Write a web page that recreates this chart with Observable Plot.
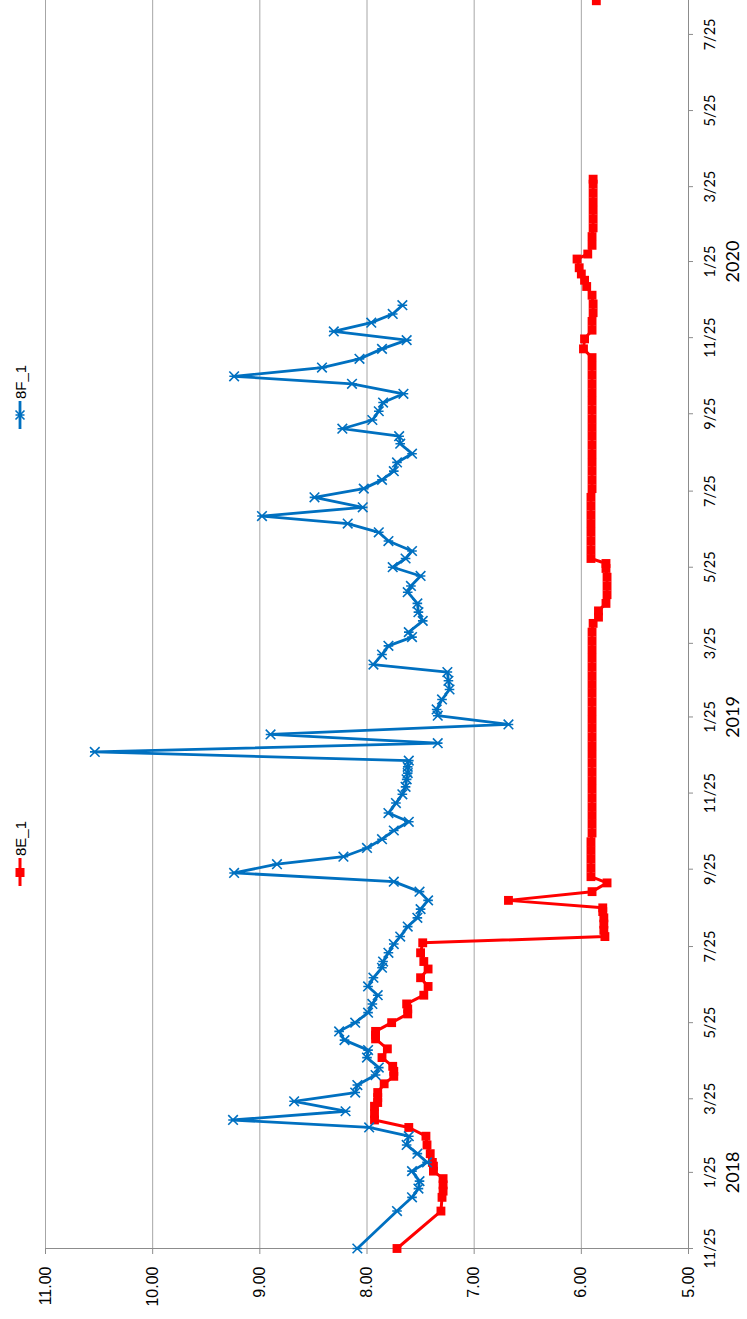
<!DOCTYPE html>
<html><head><meta charset="utf-8">
<script src="https://cdn.jsdelivr.net/npm/d3@7"></script>
<script src="https://cdn.jsdelivr.net/npm/@observablehq/plot@0.6"></script>
<style>
html,body{margin:0;padding:0;background:#fff;overflow:hidden;}
#page{position:relative;width:747px;height:1319px;overflow:hidden;background:#fff;}
#chart{position:absolute;left:0;top:0;width:1319px;height:747px;transform-origin:0 0;transform:translate(0,1319px) rotate(-90deg);}
.item{position:absolute;display:flex;align-items:center;height:18px;font:15px "Liberation Sans",Arial,sans-serif;color:#000;white-space:nowrap;}
.item svg{display:block;margin-right:2px;}
</style></head><body>
<div id="page"><div id="chart"></div></div>
<script>
// ---- data ----
const seriesNames = ["8E_1", "8F_1"];
const seriesColors = ["#ff0000", "#0070c0"];

const xDomain = ["2017-11-25", "2020-08-22"];
const yDomain = [5, 11];
const yTicks = [5, 6, 7, 8, 9, 10, 11];
const xTicks = ["2017-11-25","2018-01-25","2018-03-25","2018-05-25","2018-07-25","2018-09-25","2018-11-25",
  "2019-01-25","2019-03-25","2019-05-25","2019-07-25","2019-09-25","2019-11-25",
  "2020-01-25","2020-03-25","2020-05-25","2020-07-25"];
const yearTicks = ["2018-01-25", "2019-01-25", "2020-01-25"];
const yearLabels = ["2018", "2019", "2020"];

// 8F_1 (blue)
const blueDates = ["2017-11-25","2017-12-25","2018-01-05","2018-01-12","2018-01-18","2018-01-26","2018-02-02","2018-02-09","2018-02-16","2018-02-23",
 "2018-03-02","2018-03-08","2018-03-15","2018-03-23","2018-03-30","2018-04-05","2018-04-13","2018-04-19","2018-04-27","2018-05-03",
 "2018-05-11","2018-05-18","2018-05-25","2018-06-02","2018-06-09","2018-06-16","2018-06-23","2018-06-30","2018-07-08","2018-07-13",
 "2018-07-20","2018-07-27","2018-08-02","2018-08-10","2018-08-17","2018-08-24","2018-08-31","2018-09-07","2018-09-15","2018-09-22",
 "2018-09-29","2018-10-05","2018-10-12","2018-10-19","2018-10-26","2018-11-02","2018-11-09","2018-11-17","2018-11-24","2018-11-30",
 "2018-12-06","2018-12-11","2018-12-16","2018-12-21","2018-12-28","2019-01-04","2019-01-11","2019-01-19","2019-01-26","2019-01-31",
 "2019-02-08","2019-02-16","2019-02-23","2019-03-02","2019-03-08","2019-03-16","2019-03-23","2019-03-30","2019-04-03","2019-04-12",
 "2019-04-19","2019-04-26","2019-05-05","2019-05-10","2019-05-18","2019-05-25","2019-06-01","2019-06-07","2019-06-15","2019-06-22",
 "2019-06-29","2019-07-05","2019-07-12","2019-07-20","2019-07-27","2019-08-03","2019-08-10","2019-08-17","2019-08-24","2019-09-01",
 "2019-09-07","2019-09-13","2019-09-20","2019-09-27","2019-10-04","2019-10-11","2019-10-19","2019-10-25","2019-11-01","2019-11-08",
 "2019-11-16","2019-11-23","2019-11-30","2019-12-07","2019-12-14","2019-12-21"];
const blueValues = [8.09,7.72,7.58,7.52,7.51,7.58,7.44,7.53,7.63,7.61,
 7.98,9.25,8.20,8.68,8.11,8.09,7.92,7.89,8.00,7.99,
 8.21,8.26,8.11,7.99,7.95,7.90,7.99,7.94,7.86,7.85,
 7.80,7.75,7.69,7.62,7.53,7.50,7.43,7.51,7.75,9.24,
 8.84,8.22,8.00,7.86,7.75,7.61,7.80,7.73,7.67,7.64,
 7.63,7.62,7.62,7.61,10.54,7.34,8.90,6.68,7.34,7.35,
 7.30,7.23,7.24,7.25,7.94,7.86,7.80,7.58,7.61,7.48,
 7.52,7.53,7.62,7.59,7.50,7.76,7.64,7.58,7.80,7.89,
 8.18,8.98,8.04,8.49,8.03,7.86,7.75,7.72,7.58,7.69,
 7.70,8.23,7.95,7.89,7.85,7.66,8.14,9.24,8.42,8.07,
 7.86,7.63,8.31,7.96,7.76,7.67];

// 8E_1 (red); null marks a gap in the record
const redDates = ["2017-11-25","2017-12-25","2018-01-05","2018-01-10","2018-01-15","2018-01-20","2018-01-26","2018-01-30","2018-02-02","2018-02-09",
 "2018-02-16","2018-02-23","2018-03-02","2018-03-08","2018-03-13","2018-03-19","2018-03-22","2018-03-26","2018-03-30","2018-04-06",
 "2018-04-12","2018-04-16","2018-04-20","2018-04-27","2018-05-04","2018-05-12","2018-05-15","2018-05-18","2018-05-25","2018-06-01",
 "2018-06-05","2018-06-09","2018-06-16","2018-06-23","2018-06-30","2018-07-07","2018-07-13","2018-07-20","2018-07-28","2018-08-02",
 "2018-08-07","2018-08-12","2018-08-17","2018-08-22","2018-08-25","2018-08-31","2018-09-07","2018-09-14","2018-09-19","2018-09-26",
 "2018-10-03","2018-10-10","2018-10-17","2018-10-24","2018-10-31","2018-11-07","2018-11-14","2018-11-21","2018-11-28","2018-12-05",
 "2018-12-12","2018-12-19","2018-12-26","2019-01-02","2019-01-09","2019-01-16","2019-01-23","2019-01-30","2019-02-06","2019-02-13",
 "2019-02-20","2019-02-27","2019-03-06","2019-03-13","2019-03-20","2019-03-27","2019-04-03","2019-04-10","2019-04-15","2019-04-20",
 "2019-04-26","2019-05-03","2019-05-10","2019-05-17","2019-05-24","2019-05-28","2019-06-01","2019-06-08","2019-06-15","2019-06-22",
 "2019-06-29","2019-07-06","2019-07-13","2019-07-20","2019-07-27","2019-08-03","2019-08-10","2019-08-17","2019-08-24","2019-08-31",
 "2019-09-07","2019-09-14","2019-09-21","2019-09-28","2019-10-05","2019-10-12","2019-10-19","2019-10-26","2019-11-02","2019-11-09",
 "2019-11-16","2019-11-24","2019-12-01","2019-12-08","2019-12-15","2019-12-22","2019-12-29","2020-01-05","2020-01-10","2020-01-15",
 "2020-01-20","2020-01-27","2020-01-31","2020-02-07","2020-02-14","2020-02-21","2020-02-28","2020-03-06","2020-03-13","2020-03-20",
 "2020-03-27","2020-03-31","2020-06-01","2020-08-21"];
const redValues = [7.72,7.31,7.30,7.29,7.29,7.29,7.38,7.38,7.39,7.41,
 7.44,7.45,7.61,7.93,7.93,7.93,7.90,7.90,7.90,7.84,
 7.75,7.75,7.76,7.86,7.81,7.92,7.92,7.92,7.77,7.62,
 7.62,7.63,7.47,7.43,7.50,7.43,7.47,7.50,7.48,5.78,
 5.79,5.79,5.79,5.80,5.80,6.68,5.90,5.76,5.91,5.91,
 5.91,5.91,5.91,5.90,5.90,5.90,5.90,5.90,5.90,5.90,
 5.90,5.90,5.90,5.90,5.90,5.90,5.90,5.90,5.90,5.90,
 5.90,5.90,5.90,5.90,5.90,5.90,5.90,5.89,5.84,5.84,
 5.77,5.76,5.76,5.76,5.77,5.77,5.91,5.91,5.91,5.91,
 5.91,5.91,5.91,5.91,5.90,5.90,5.90,5.90,5.90,5.90,
 5.90,5.90,5.90,5.90,5.90,5.90,5.90,5.90,5.90,5.90,
 5.98,5.97,5.90,5.90,5.89,5.89,5.90,5.95,5.97,6.00,
 6.02,6.04,5.94,5.90,5.90,5.89,5.89,5.89,5.89,5.89,
 5.89,5.89,null,5.86];

// ---- build ----
const parse = d3.utcParse("%Y-%m-%d");
const blue = blueDates.map((d, i) => ({date: parse(d), value: blueValues[i]}));
const red = redDates.map((d, i) => ({date: parse(d), value: redValues[i]}));
const years = yearTicks.map((d, i) => ({date: parse(d), label: yearLabels[i]}));

const star = {
  draw(ctx, size) {
    const r = Math.sqrt(size / Math.PI);
    ctx.moveTo(-r, -r); ctx.lineTo(r, r);
    ctx.moveTo(r, -r); ctx.lineTo(-r, r);
    ctx.moveTo(0, -r); ctx.lineTo(0, r);
  }
};

const axisGray = "#8c8c8c";
const chart = Plot.plot({
  width: 1319, height: 747,
  marginLeft: 70, marginRight: 0, marginTop: 45, marginBottom: 59,
  style: {fontFamily: "'Liberation Sans', Arial, sans-serif", fontSize: "16px", background: "white", color: "black"},
  x: {type: "utc", domain: xDomain.map(parse)},
  y: {domain: yDomain},
  marks: [
    Plot.gridY(yTicks, {stroke: "#a6a6a6", strokeOpacity: 1, strokeWidth: 1}),
    Plot.ruleY([yDomain[0]], {stroke: axisGray, strokeWidth: 1}),
    Plot.ruleX([parse(xDomain[0])], {stroke: axisGray, strokeWidth: 1}),
    Plot.axisY(yTicks, {anchor: "left", tickSize: 5, tickPadding: 13, tickFormat: d3.format(".2f"), stroke: axisGray, fill: "black", fontSize: 16, label: null}),
    Plot.axisX(xTicks.map(parse), {anchor: "bottom", tickSize: 5, tickPadding: 11, tickFormat: d => `${d.getUTCMonth() + 1}/${d.getUTCDate()}`,
      stroke: axisGray, fill: "black", fontSize: 14.5, fontFamily: "Lato, 'Open Sans', sans-serif", label: null}),
    Plot.text(years, {x: "date", text: "label", frameAnchor: "bottom", dy: 50, fontSize: 18, fontFamily: "Lato, 'Open Sans', sans-serif", fill: "black"}),
    Plot.line(red, {x: "date", y: "value", stroke: seriesColors[0], strokeWidth: 3}),
    Plot.dot(red, {x: "date", y: "value", symbol: "square", r: 5, fill: seriesColors[0], stroke: "none"}),
    Plot.line(blue, {x: "date", y: "value", stroke: seriesColors[1], strokeWidth: 2.8}),
    Plot.dot(blue, {x: "date", y: "value", symbol: star, r: 4.8, fill: "none", stroke: seriesColors[1], strokeWidth: 1.6})
  ]
});
const holder = document.getElementById("chart");
holder.appendChild(chart);

// legend (above the plot in the unrotated chart)
const legendPos = [433, 890];
seriesNames.forEach((name, i) => {
  const div = document.createElement("div");
  div.className = "item";
  div.style.left = legendPos[i] + "px";
  div.style.top = "11px";
  const marker = i === 0
    ? `<rect x="9" y="4.5" width="9" height="9" fill="${seriesColors[i]}"/>`
    : `<path d="M9.5,4.5L18.5,13.5M18.5,4.5L9.5,13.5M14,4.5L14,13.5" stroke="${seriesColors[i]}" stroke-width="1.6" fill="none"/>`;
  div.innerHTML = `<svg width="28" height="18"><line x1="0" y1="9" x2="28" y2="9" stroke="${seriesColors[i]}" stroke-width="${i === 0 ? 3 : 2.8}"/>${marker}</svg><span>${name}</span>`;
  holder.appendChild(div);
});
</script>
</body></html>
